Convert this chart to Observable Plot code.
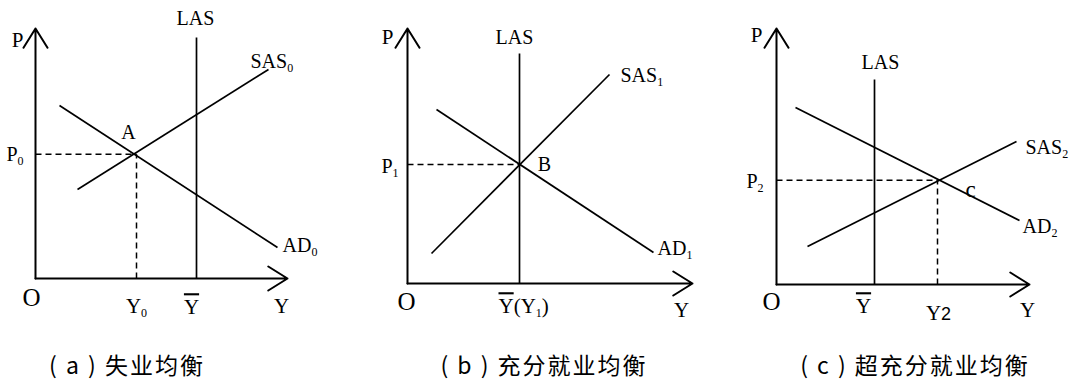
<!DOCTYPE html>
<html><head><meta charset="utf-8">
<script src="https://cdn.jsdelivr.net/npm/d3@7"></script>
<script src="https://cdn.jsdelivr.net/npm/@observablehq/plot@0.6"></script>
<style>
body{margin:0;background:#fff;}
#root{position:relative;width:1077px;height:379px;}
.panel{position:absolute;top:0;}
.panel svg{overflow:visible;background:transparent;}
.cap{position:absolute;top:353px;font-family:"Noto Sans CJK SC";font-size:23px;letter-spacing:2px;line-height:22px;color:#000;white-space:pre;transform:translateX(-50%);}
</style></head><body><div id="root"></div>
<script>
// ---- data (in abstract diagram units) ----
const panelIds = ["a", "b", "c"];
const captions = ["( a ) 失业均衡", "( b ) 充分就业均衡", "( c ) 超充分就业均衡"];
const xAxisEnd = [10.08, 11.4, 10.12];
const yAxisEnd = [10.0, 10.2, 10.24];
const lasX = [6.44, 4.48, 3.92];
const lasTop = [9.64, 9.2, 8.2];
const sasFrom = [[1.68, 3.56], [0.96, 1.2], [1.24, 1.52]];
const sasTo = [[9.32, 8.36], [8.08, 8.36], [9.6, 5.72]];
const adFrom = [[0.96, 6.92], [1.16, 6.96], [0.76, 7.08]];
const adTo = [[9.68, 1.24], [9.84, 1.24], [9.72, 2.56]];
const equilibrium = [[4.04, 4.97], [4.48, 4.76], [6.44, 4.17]];
const showVerticalDash = [true, false, true];
const eqNames = ["A", "B", "c"];
const sasNames = ["SAS{0}", "SAS{1}", "SAS{2}"];
const adNames = ["AD{0}", "AD{1}", "AD{2}"];
const priceNames = ["P{0}", "P{1}", "P{2}"];
const outputNames = ["Y{0}", null, "Y<2>"];
const potentialNames = ["[Y]", "[Y](Y{1})", "[Y]"];

// ---- layout (pixels) ----
const layout = [
  {left: 0,   ox: 35, oy: 278, cap: 127,
   off: {P:[-18,12], LAS:[-1,-19], SAS:[-18,-8,"start"], AD:[5,-2,"start"], EQ:[-8,-22], PR:[-12,0,"end"], O:[-4,19], OUT:[0,28], POT:[-5,29,"middle"], Y:[-6,28]}},
  {left: 359, ox: 48, oy: 283, cap: 544,
   off: {P:[-20,9], LAS:[-5,-16], SAS:[11,1,"start"], AD:[4,-4,"start"], EQ:[25,0], PR:[-9,2,"end"], O:[-1,18], OUT:[0,28], POT:[-21,23,"start"], Y:[-11,27]}},
  {left: 718, ox: 58, oy: 284, cap: 915,
   off: {P:[-20,7], LAS:[6,-17], SAS:[9,6,"start"], AD:[3,6,"start"], EQ:[33,9], PR:[-13,1,"end"], O:[-5,17], OUT:[1,29], POT:[-11,22,"middle"], Y:[-2,26]}}
];
const unit = 25;
const font = "Liberation Serif";

function label(text, x, y, o, size) {
  return Plot.text([{x, y, t: text}], {
    x: "x", y: "y", text: "t", dx: o[0], dy: o[1],
    textAnchor: o[2] || "middle", lineAnchor: "middle",
    fontFamily: font, fontSize: size, fill: "black"
  });
}

function richify(svg) {
  svg.querySelectorAll("text").forEach(t => {
    const s = t.textContent;
    if (!/[\{\[<]/.test(s)) return;
    t.textContent = "";
    const parts = s.match(/\{[^}]*\}|\[[^\]]*\]|<[^>]*>|[^\{\[<]+/g);
    let shift = 0;
    const ns = "http://www.w3.org/2000/svg";
    parts.forEach(p => {
      const ts = document.createElementNS(ns, "tspan");
      let dy = 0;
      if (p[0] === "{") {
        ts.textContent = p.slice(1, -1);
        ts.setAttribute("font-size", 12);
        dy = 4 - shift; shift = 4;
      } else if (p[0] === "[") {
        ts.textContent = p.slice(1, -1);
        ts.setAttribute("style", "text-decoration: overline");
        dy = -shift; shift = 0;
      } else if (p[0] === "<") {
        ts.textContent = p.slice(1, -1);
        ts.setAttribute("font-size", 18);
        ts.setAttribute("font-family", "Liberation Sans");
        dy = -shift; shift = 0;
      } else {
        ts.textContent = p;
        dy = -shift; shift = 0;
      }
      if (dy) ts.setAttribute("dy", dy);
      t.appendChild(ts);
    });
  });
}

const root = document.getElementById("root");
panelIds.forEach((id, i) => {
  const L = layout[i];
  const [ex, ey] = equilibrium[i];
  const line = {x1: "x1", y1: "y1", x2: "x2", y2: "y2", stroke: "black"};
  const marks = [
    Plot.arrow([{x1: 0, y1: 0, x2: xAxisEnd[i], y2: 0}], {...line, strokeWidth: 2, headLength: 17, headAngle: 64}),
    Plot.arrow([{x1: 0, y1: 0, x2: 0, y2: yAxisEnd[i]}], {...line, strokeWidth: 2, headLength: 17, headAngle: 64}),
    Plot.link([{x1: lasX[i], y1: 0, x2: lasX[i], y2: lasTop[i]}], {...line, strokeWidth: 1.7}),
    Plot.link([{x1: sasFrom[i][0], y1: sasFrom[i][1], x2: sasTo[i][0], y2: sasTo[i][1]}], {...line, strokeWidth: 1.7}),
    Plot.link([{x1: adFrom[i][0], y1: adFrom[i][1], x2: adTo[i][0], y2: adTo[i][1]}], {...line, strokeWidth: 1.7}),
    Plot.link([{x1: 0, y1: ey, x2: ex, y2: ey}], {...line, strokeWidth: 1.5, strokeDasharray: "6,4"})
  ];
  if (showVerticalDash[i]) {
    marks.push(Plot.link([{x1: ex, y1: 0, x2: ex, y2: ey}], {...line, strokeWidth: 1.5, strokeDasharray: "6,4"}));
  }
  const o = L.off;
  marks.push(
    label("P", 0, yAxisEnd[i], o.P, 21),
    label("LAS", lasX[i], lasTop[i], o.LAS, 20),
    label(sasNames[i], sasTo[i][0], sasTo[i][1], o.SAS, 20),
    label(adNames[i], adTo[i][0], adTo[i][1], o.AD, 20),
    label(eqNames[i], ex, ey, o.EQ, eqNames[i] === "c" ? 23 : 20),
    label(priceNames[i], 0, ey, o.PR, 20),
    label("O", 0, 0, o.O, 25),
    label(potentialNames[i], lasX[i], 0, o.POT, 21),
    label("Y", xAxisEnd[i], 0, o.Y, 21)
  );
  if (outputNames[i]) marks.push(label(outputNames[i], ex, 0, o.OUT, 21));

  const svg = Plot.plot({
    width: 359, height: 330,
    x: {domain: [0, 10], range: [L.ox, L.ox + 10 * unit], axis: null},
    y: {domain: [0, 10], range: [L.oy, L.oy - 10 * unit], axis: null},
    style: {background: "transparent", overflow: "visible"},
    marks
  });
  richify(svg);
  const div = document.createElement("div");
  div.className = "panel";
  div.style.left = L.left + "px";
  div.appendChild(svg);
  root.appendChild(div);

  const cap = document.createElement("div");
  cap.className = "cap";
  cap.style.left = L.cap + "px";
  cap.textContent = captions[i];
  root.appendChild(cap);
});
</script>
</body></html>
